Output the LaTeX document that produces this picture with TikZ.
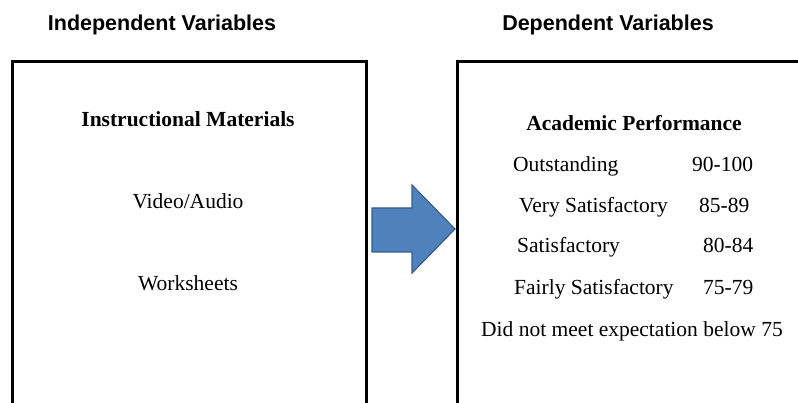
\documentclass[tikz,border=0pt]{standalone}
\usepackage{fontspec}
\setmainfont{Liberation Serif}
\newfontfamily\arialfont{Liberation Sans}
\definecolor{arrowfill}{HTML}{4F81BD}
\definecolor{arrowline}{HTML}{385D8A}
\begin{document}
\begin{tikzpicture}[x=1pt,y=-1pt,
  boxline/.style={line width=3pt,black},
  title/.style={font=\arialfont\bfseries\fontsize{21.5}{26}\selectfont,inner sep=0pt,anchor=base},
  body/.style={font=\fontsize{21.5}{26}\selectfont,inner sep=0pt,anchor=base},
  bodyleft/.style={body,anchor=base west},
  bodybold/.style={body,font=\bfseries\fontsize{21.5}{26}\selectfont},
  bigarrow/.style={fill=arrowfill,draw=arrowline,line width=1.2pt,line join=miter}]
\useasboundingbox (0,0) rectangle (798,403);
\clip (0,0) rectangle (798,403);
% headings
\node[title] (indep) at (162,31) {Independent Variables};
\node[title] (dep) at (608,31) {Dependent Variables};
% left box
\coordinate (lbl) at (12,410);
\coordinate (lbr) at (366,410);
\draw[boxline] (lbl) |- (366,62) -- (lbr);
% right box
\coordinate (rbl) at (457,410);
\coordinate (rbr) at (805,62);
\draw[boxline] (rbl) |- (rbr);
% arrow
\draw[bigarrow] (372,208) -- (412,208) -- (412,185) -- (455,229) -- (412,273) -- (412,252) -- (372,252) -- cycle;
% left contents
\node[bodybold] (im) at (188,127) {Instructional Materials};
\node[body] (va) at (188,209) {Video/Audio};
\node[body] (ws) at (188,291) {Worksheets};
% right contents
\node[bodybold] (ap) at (634,131) {Academic Performance};
\node[bodyleft] (o1) at (513,172) {Outstanding};
\node[bodyleft] (o2) at (692,172) {90-100};
\node[bodyleft] (v1) at (519,213) {Very Satisfactory};
\node[bodyleft] (v2) at (699,213) {85-89};
\node[bodyleft] (s1) at (517,253) {Satisfactory};
\node[bodyleft] (s2) at (703,253) {80-84};
\node[bodyleft] (f1) at (514,295) {Fairly Satisfactory};
\node[bodyleft] (f2) at (703,295) {75-79};
\node[bodyleft] (dn) at (481,337) {Did not meet expectation below 75};
\end{tikzpicture}
\end{document}
